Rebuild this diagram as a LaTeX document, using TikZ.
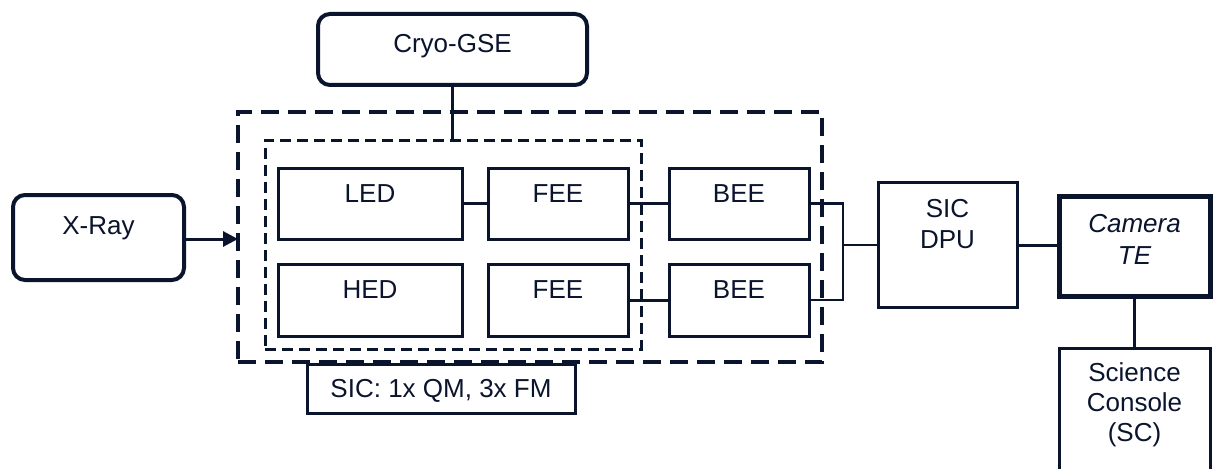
\documentclass[tikz,border=0pt]{standalone}
\usepackage{fontspec}
\setmainfont{Liberation Sans}
\usetikzlibrary{arrows.meta}
\definecolor{ink}{RGB}{10,20,45}
\begin{document}
\begin{tikzpicture}[x=1pt,y=-1pt,
  every node/.style={inner sep=0pt, outer sep=0pt},
  box/.style={draw=ink, line width=3pt, anchor=north west},
  thickbox/.style={draw=ink, line width=5pt, anchor=north west},
  rbox/.style={draw=ink, line width=4pt, rounded corners=12pt, anchor=north west},
  outerdash/.style={draw=ink, line width=4pt, dash pattern=on 18pt off 9pt, anchor=north west},
  innerdash/.style={draw=ink, line width=3pt, dash pattern=on 11pt off 6pt, anchor=north west},
  txt/.style={text=ink, font=\fontsize{26}{31}\selectfont, align=center},
  one/.style={text height=18.5pt, text depth=0pt},
  link/.style={draw=ink, line width=3pt},
  thin/.style={draw=ink, line width=2.5pt}
]
\clip (0,0) rectangle (1214,468);
\fill[white] (0,0) rectangle (1214,468);

% rounded boxes
\node[rbox, minimum width=269pt, minimum height=71pt] (cryo) at (318,14) {};
\node[txt, one] (cryot) at ([yshift=-29pt]cryo.north) {Cryo-GSE};
\node[rbox, minimum width=171pt, minimum height=85pt] (xray) at (13,195) {};
\node[txt, one] (xrayt) at ([yshift=-30pt]xray.north) {X-Ray};

% dashed containers
\node[outerdash, minimum width=584pt, minimum height=250pt] (outer) at (238,112) {};
\node[innerdash, minimum width=376pt, minimum height=209pt] (inner) at (265,140) {};

% inner boxes
\node[box, minimum width=184pt, minimum height=71pt] (led) at (278,168) {};
\node[txt, one] (ledt) at ([yshift=-25pt]led.north) {LED};
\node[box, minimum width=140pt, minimum height=71pt] (fee1) at (488,168) {};
\node[txt, one] (fee1t) at ([yshift=-25pt]fee1.north) {FEE};
\node[box, minimum width=140pt, minimum height=71pt] (bee1) at (669,168) {};
\node[txt, one] (bee1t) at ([yshift=-25pt]bee1.north) {BEE};

\node[box, minimum width=184pt, minimum height=72pt] (hed) at (278,264) {};
\node[txt, one] (hedt) at ([yshift=-25pt]hed.north) {HED};
\node[box, minimum width=140pt, minimum height=72pt] (fee2) at (488,264) {};
\node[txt, one] (fee2t) at ([yshift=-25pt]fee2.north) {FEE};
\node[box, minimum width=140pt, minimum height=72pt] (bee2) at (669,264) {};
\node[txt, one] (bee2t) at ([yshift=-25pt]bee2.north) {BEE};

% SIC label
\node[box, fill=white, minimum width=268pt, minimum height=49pt] (sic) at (307,364) {};
\node[txt, one] (sict) at (sic.center) {SIC: 1x QM, 3x FM};

% DPU
\node[box, minimum width=139pt, minimum height=125pt] (dpu) at (878,182) {};
\node[txt] (dput) at ([yshift=-42pt]dpu.north) {SIC\\DPU};

% Camera TE
\node[thickbox, minimum width=151pt, minimum height=100pt] (cam) at (1059,196) {};
\node[txt, font=\fontsize{26}{32}\itshape] (camt) at ([yshift=-43pt]cam.north) {Camera\\TE};

% Science console
\node[box, minimum width=151pt, minimum height=160pt] (sc) at (1059,348) {};
\node[txt, font=\fontsize{26}{30}\selectfont] (sct) at ([yshift=-57pt]sc.north) {Science\\Console\\(SC)};

% connectors
\draw[link] (cryo.south) -- (cryo.south |- inner.north);
\draw[link, -{Triangle[length=15pt,width=15pt]}] (xray.east |- 0,239) -- (outer.west |- 0,239);
\draw[link] (led.east) -- (fee1.west);
\draw[link] (fee1.east) -- (bee1.west);
\draw[link] (fee2.east) -- (bee2.west);
\coordinate (bus) at (843,245);
\draw[thin] (bee1.east) -| (bus) |- (bee2.east);
\draw[thin] (bus) -- (dpu.west |- bus);
\draw[link] (dpu.east |- 0,245) -- (cam.west |- 0,245);
\draw[link] (cam.south) -- (sc.north);
\end{tikzpicture}
\end{document}
